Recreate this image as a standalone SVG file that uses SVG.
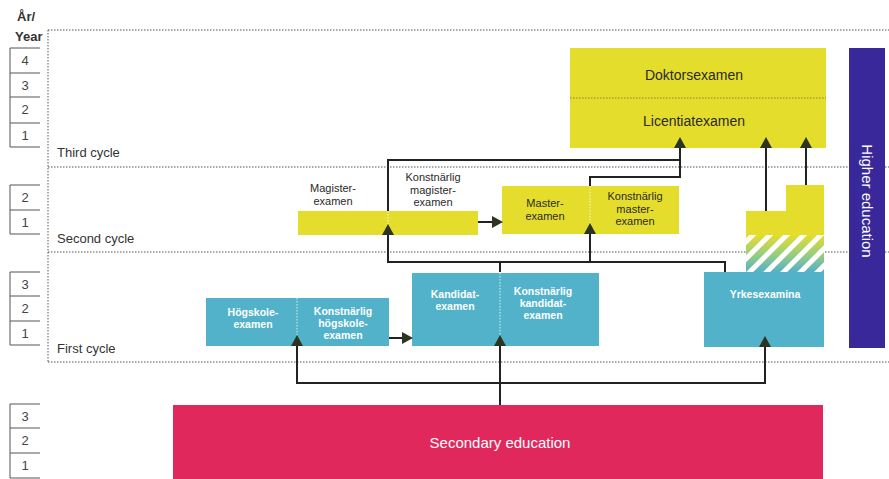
<svg xmlns="http://www.w3.org/2000/svg" width="889" height="479" viewBox="0 0 889 479">
<style>
  text { font-family: "Liberation Sans", Arial, sans-serif; }
  .yr { font-size: 13px; fill: #444; text-anchor: middle; }
  .yb { fill: none; stroke: #555; stroke-width: 1; }
  .dot { fill: none; stroke: #555; stroke-width: 1; stroke-dasharray: 1.5 1.5; }
  .cyc { font-size: 13px; fill: #333; }
  .yel { fill: #e5dd2c; }
  .blu { fill: #52b2ca; }
  .ty { font-size: 11px; fill: #2a2a2a; text-anchor: middle; }
  .tb { font-size: 10.5px; fill: #ffffff; text-anchor: middle; font-weight: bold; }
  .div { stroke: #fff; stroke-width: 1; stroke-dasharray: 1.5 1.5; opacity: 0.8; }
  .con { fill: none; stroke: #222; stroke-width: 2; }
  .ah { fill: #2c3520; }
</style>
<defs>
  <path id="up" d="M0,0 L6,11 L-6,11 Z"/>
  <path id="rt" d="M0,0 L-11,-6 L-11,6 Z"/>
  <linearGradient id="g1" x1="0" y1="0" x2="0" y2="1">
    <stop offset="0" stop-color="#e5dd2c"/>
    <stop offset="0.5" stop-color="#9ccf7a"/>
    <stop offset="1" stop-color="#52b2ca"/>
  </linearGradient>
  <pattern id="hatch" patternUnits="userSpaceOnUse" width="12" height="12" patternTransform="rotate(-45)">
    <rect x="0" y="0" width="12" height="5" fill="#ffffff"/>
  </pattern>
</defs>

<g id="year-axis">
  <text x="17" y="21" font-size="13" font-weight="bold" fill="#333">År/</text>
  <text x="15" y="41" font-size="13" font-weight="bold" fill="#333">Year</text>
  <path class="yb" d="M40,48 H10 V147 H40 M10,73 H40 M10,97 H40 M10,123 H40"/>
  <text class="yr" x="25" y="65">4</text>
  <text class="yr" x="25" y="90">3</text>
  <text class="yr" x="25" y="114">2</text>
  <text class="yr" x="25" y="140">1</text>
  <path class="yb" d="M40,185 H10 V234 H40 M10,210 H40"/>
  <text class="yr" x="25" y="202">2</text>
  <text class="yr" x="25" y="227">1</text>
  <path class="yb" d="M40,272 H10 V345 H40 M10,296 H40 M10,321 H40"/>
  <text class="yr" x="25" y="289">3</text>
  <text class="yr" x="25" y="313">2</text>
  <text class="yr" x="25" y="338">1</text>
  <path class="yb" d="M40,404 H10 V478 H40 M10,428 H40 M10,453 H40"/>
  <text class="yr" x="25" y="421">3</text>
  <text class="yr" x="25" y="445">2</text>
  <text class="yr" x="25" y="470">1</text>
</g>

<g id="cycles">
  <path class="dot" d="M48,30 H889 M48,167 H889 M48,252 H889 M48,362 H889 M48,30 V362"/>
  <text class="cyc" x="57" y="157">Third cycle</text>
  <text class="cyc" x="57" y="243">Second cycle</text>
  <text class="cyc" x="57" y="353">First cycle</text>
</g>

<g id="higher-education">
  <rect x="849" y="48" width="36" height="300" fill="#38289a"/>
  <text transform="translate(862,201) rotate(90)" text-anchor="middle" font-size="15" fill="#fff">Higher education</text>
</g>

<g id="doktor-licentiat">
  <rect class="yel" x="570" y="48" width="256" height="100"/>
  <line x1="570" y1="98" x2="826" y2="98" stroke="#8a8420" stroke-width="1" stroke-dasharray="1.5 1.5"/>
  <text x="694" y="80" font-size="14" fill="#2a2a2a" text-anchor="middle">Doktorsexamen</text>
  <text x="694" y="126" font-size="14" fill="#2a2a2a" text-anchor="middle">Licentiatexamen</text>
</g>

<g id="magister">
  <rect class="yel" x="298" y="211" width="180" height="24"/>
  <line class="div" x1="388" y1="211" x2="388" y2="224"/>
  <text class="ty" x="333" y="192">Magister-</text>
  <text class="ty" x="333" y="205">examen</text>
  <text class="ty" x="433" y="181">Konstnärlig</text>
  <text class="ty" x="433" y="193.5">magister-</text>
  <text class="ty" x="433" y="206">examen</text>
</g>

<g id="master">
  <rect class="yel" x="502" y="186" width="177" height="48"/>
  <line class="div" x1="590" y1="186" x2="590" y2="223"/>
  <text class="ty" x="545" y="207">Master-</text>
  <text class="ty" x="545" y="219.5">examen</text>
  <text class="ty" x="635" y="200">Konstnärlig</text>
  <text class="ty" x="635" y="212.5">master-</text>
  <text class="ty" x="635" y="225">examen</text>
</g>

<g id="hogskole">
  <rect class="blu" x="206" y="298" width="183" height="48"/>
  <line class="div" x1="297" y1="298" x2="297" y2="335"/>
  <text class="tb" x="253" y="316">Högskole-</text>
  <text class="tb" x="253" y="328">examen</text>
  <text class="tb" x="343" y="315">Konstnärlig</text>
  <text class="tb" x="343" y="327">högskole-</text>
  <text class="tb" x="343" y="339">examen</text>
</g>

<g id="kandidat">
  <rect class="blu" x="412" y="273" width="187" height="73"/>
  <line class="div" x1="500" y1="273" x2="500" y2="335"/>
  <text class="tb" x="455" y="298">Kandidat-</text>
  <text class="tb" x="455" y="310">examen</text>
  <text class="tb" x="543" y="295">Konstnärlig</text>
  <text class="tb" x="543" y="307">kandidat-</text>
  <text class="tb" x="543" y="319">examen</text>
</g>

<g id="yrkesexamina">
  <rect class="yel" x="786" y="185" width="38" height="27"/>
  <rect class="yel" x="746" y="211" width="78" height="25"/>
  <rect x="746" y="235" width="78" height="37" fill="url(#g1)"/>
  <rect x="746" y="235" width="78" height="37" fill="url(#hatch)"/>
  <rect class="blu" x="704" y="272" width="120" height="75"/>
  <text class="tb" x="765" y="298">Yrkesexamina</text>
</g>

<g id="secondary">
  <rect x="173" y="405" width="650" height="74" fill="#e0285c"/>
  <text x="500" y="448" font-size="15" fill="#fff" text-anchor="middle">Secondary education</text>
</g>

<g id="connectors">
  <path class="con" d="M388,211 V160 H680 V148"/>
  <path class="con" d="M590,186 V177 H680 V160"/>
  <path class="con" d="M725,272 V262 H388 V235"/>
  <path class="con" d="M590,262 V234"/>
  <path class="con" d="M500,272 V262"/>
  <path class="con" d="M766,211 V148"/>
  <path class="con" d="M806,185 V148"/>
  <path class="con" d="M500,405 V346"/>
  <path class="con" d="M297,346 V383 H765 V347"/>
  <path class="con" d="M478,222 H492"/>
  <path class="con" d="M389,338 H402"/>
  <use class="ah" href="#up" x="680" y="137"/>
  <use class="ah" href="#up" x="766" y="137"/>
  <use class="ah" href="#up" x="806" y="137"/>
  <use class="ah" href="#up" x="388" y="224"/>
  <use class="ah" href="#up" x="590" y="223"/>
  <use class="ah" href="#up" x="297" y="335"/>
  <use class="ah" href="#up" x="500" y="335"/>
  <use class="ah" href="#up" x="765" y="336"/>
  <use class="ah" href="#rt" x="503" y="222"/>
  <use class="ah" href="#rt" x="413" y="338"/>
</g>
</svg>
